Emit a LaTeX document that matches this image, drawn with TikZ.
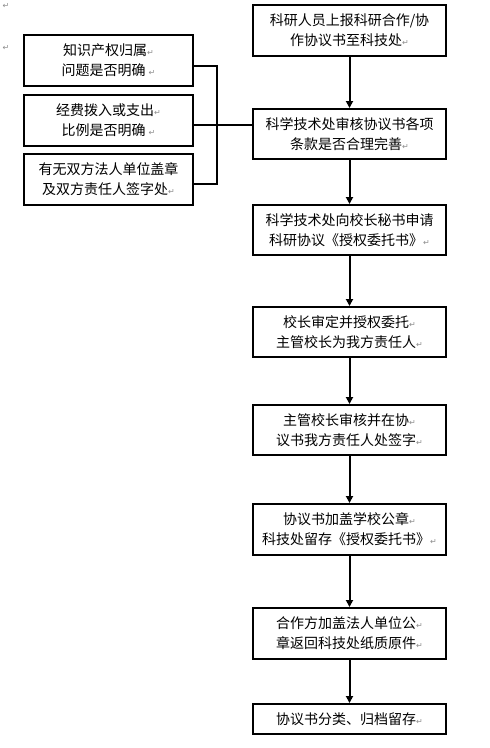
\documentclass[tikz,border=0pt]{standalone}
\usepackage{fontspec}
\newfontfamily\cjk{Noto Sans CJK SC}
\newfontfamily\dvsans{DejaVu Sans}
\usetikzlibrary{arrows.meta}
\newcommand{\retmark}{{\dvsans\color{black!45}\fontsize{8}{8}\selectfont ↵}}
\tikzset{
  box/.style={draw, line width=2pt, inner sep=0pt, align=center,
    font=\cjk\fontsize{14}{20}\selectfont},
  rbox/.style={box, minimum width=193pt},
  lbox/.style={box, minimum width=169pt, minimum height=51pt},
  flow/.style={line width=2pt, -{Triangle[length=7pt,width=7pt]}},
  brace/.style={line width=1.6pt},
  pmark/.style={inner sep=0pt, font=\dvsans\fontsize{8}{8}\selectfont, text=black!45}
}
\begin{document}
\begin{tikzpicture}[x=1pt,y=1pt]
\useasboundingbox (0,0) rectangle (490,-748);
\node[pmark] (p1) at (6,-6) {↵};
\node[pmark] (p2) at (6,-48) {↵};
% right column
\node[rbox, minimum height=51pt] (b1) at (349.5,-30.5) {科研人员上报科研合作/协\\作协议书至科技处\retmark};
\node[rbox, minimum height=50pt] (b2) at (349.5,-134) {科学技术处审核协议书各项\\条款是否合理完善\retmark};
\node[rbox, minimum height=50pt] (b3) at (349.5,-230) {科学技术处向校长秘书申请\\科研协议《授权委托书》\retmark};
\node[rbox, minimum height=50pt] (b4) at (349.5,-332) {校长审定并授权委托\retmark\\主管校长为我方责任人\retmark};
\node[rbox, minimum height=50pt] (b5) at (349.5,-430) {主管校长审核并在协\retmark\\议书我方责任人处签字\retmark};
\node[rbox, minimum height=51pt] (b6) at (349.5,-529.5) {协议书加盖学校公章\retmark\\科技处留存《授权委托书》\retmark};
\node[rbox, minimum height=51pt] (b7) at (349.5,-633.5) {合作方加盖法人单位公\retmark\\章返回科技处纸质原件\retmark};
\node[rbox, minimum height=30pt] (b8) at (349.5,-719) {协议书分类、归档留存\retmark};
% left column
\node[lbox] (A) at (108.5,-60.5) {知识产权归属\retmark\\问题是否明确\ \retmark};
\node[lbox] (B) at (108.5,-120.5) {经费拨入或支出\retmark\\比例是否明确\ \retmark};
\node[lbox] (C) at (108.5,-179.5) {有无双方法人单位盖章\\及双方责任人签字处\retmark};
% arrows
\draw[flow] (b1) -- (b2);
\draw[flow] (b2) -- (b3);
\draw[flow] (b3) -- (b4);
\draw[flow] (b4) -- (b5);
\draw[flow] (b5) -- (b6);
\draw[flow] (b6) -- (b7);
\draw[flow] (b7) -- (b8);
% bracket
\coordinate (jt) at (217,-66);
\coordinate (jm) at (217,-125);
\coordinate (jb) at (217,-184);
\draw[brace] (A.east |- jt) -- (jt) -- (jb) -- (C.east |- jb);
\draw[brace] (B.east |- jm) -- (b2.west |- jm);
\end{tikzpicture}
\end{document}
